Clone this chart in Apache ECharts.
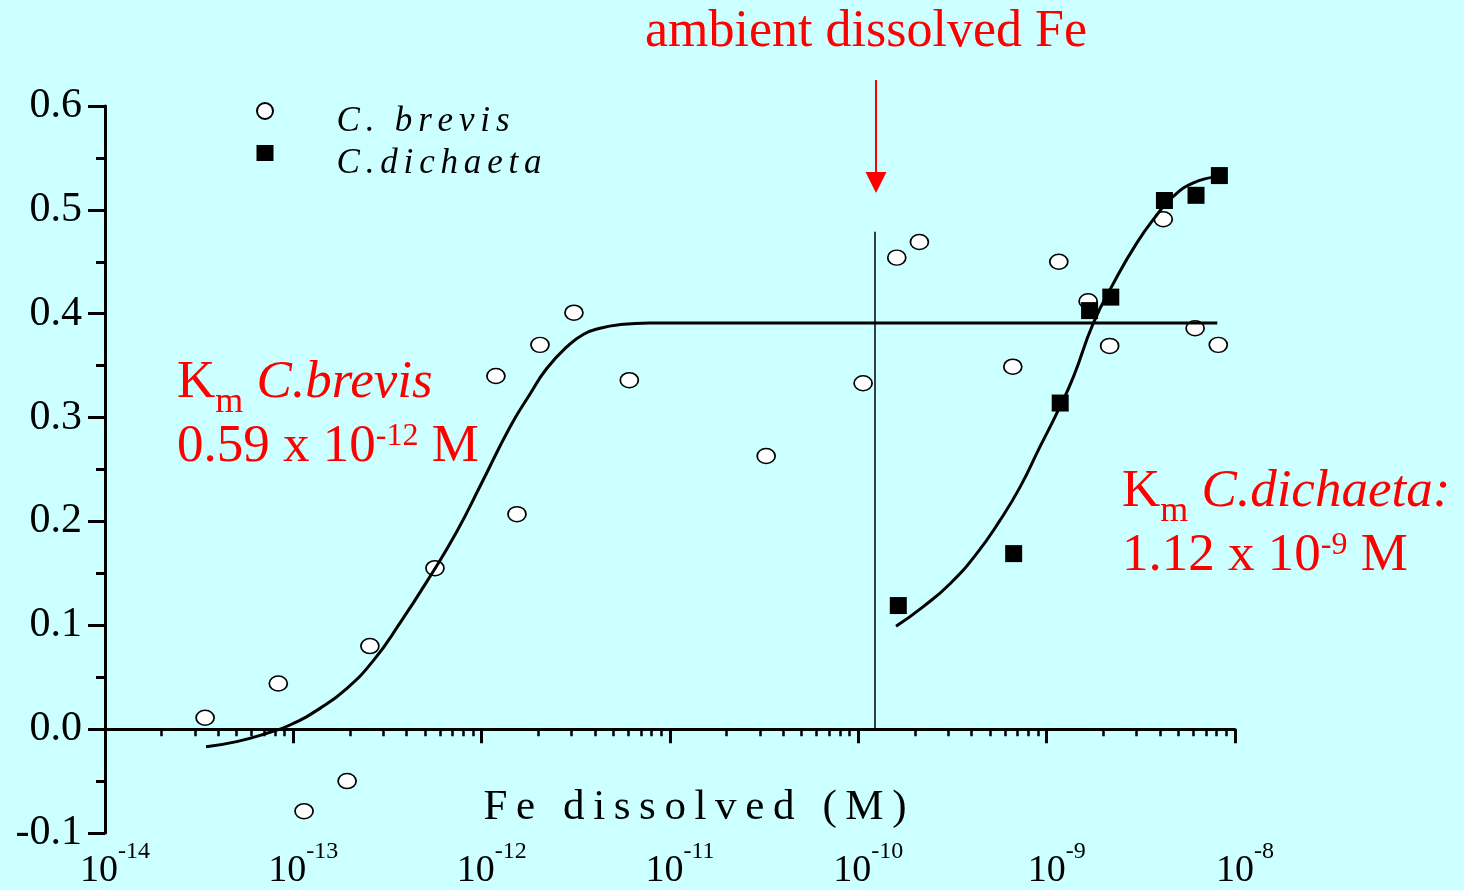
<!DOCTYPE html>
<html>
<head>
<meta charset="utf-8">
<script src="https://cdn.jsdelivr.net/npm/echarts@6/dist/echarts.min.js"></script>
<style>
html,body{margin:0;padding:0;background:#CCFFFF;}
#chart{width:1464px;height:890px;}
</style>
</head>
<body>
<div id="chart"></div>
<script>
// ---------- data (Fe in mol/L, rate values) ----------
const brevisFe   = [3.40e-14, 8.32e-14, 1.14e-13, 1.93e-13, 2.55e-13, 5.65e-13, 1.19e-12, 1.54e-12, 2.04e-12, 3.09e-12, 6.08e-12, 3.24e-11, 1.06e-10, 1.60e-10, 2.11e-10, 6.61e-10, 1.16e-9, 1.66e-9, 2.16e-9, 4.16e-9, 6.14e-9, 8.15e-9];
const brevisRate = [0.011, 0.044, -0.079, -0.050, 0.080, 0.155, 0.340, 0.207, 0.370, 0.401, 0.336, 0.263, 0.333, 0.454, 0.469, 0.349, 0.450, 0.412, 0.369, 0.491, 0.386, 0.370];

const dichaetaFe   = [1.63e-10, 6.68e-10, 1.18e-9, 1.69e-9, 2.19e-9, 4.22e-9, 6.21e-9, 8.26e-9];
const dichaetaRate = [0.119, 0.169, 0.314, 0.403, 0.416, 0.509, 0.514, 0.533];

const brevisFitFe   = [3.44e-14, 5.00e-14, 7.22e-14, 9.60e-14, 1.385e-13, 1.92e-13, 2.66e-13, 3.68e-13, 5.32e-13, 7.37e-13, 1.00e-12, 1.414e-12, 1.81e-12, 2.21e-12, 2.83e-12, 3.46e-12, 4.25e-12, 5.43e-12, 7.83e-12, 8.05e-9];
const brevisFitRate = [-0.017, -0.012, -0.004, 0.004, 0.020, 0.039, 0.066, 0.102, 0.147, 0.190, 0.237, 0.291, 0.323, 0.347, 0.368, 0.380, 0.386, 0.3895, 0.391, 0.391];

const dichaetaFitFe   = [1.585e-10, 2.213e-10, 3.07e-10, 4.25e-10, 5.65e-10, 7.22e-10, 9.22e-10, 1.131e-9, 1.385e-9, 1.769e-9, 2.258e-9, 3.006e-9, 3.84e-9, 4.70e-9, 6.01e-9, 8.03e-9];
const dichaetaFitRate = [0.099, 0.118, 0.140, 0.169, 0.201, 0.233, 0.272, 0.304, 0.339, 0.391, 0.429, 0.468, 0.495, 0.513, 0.526, 0.532];

const ambientFe = 1.226e-10;
const ambientLineTop = 0.479;

const xTickExponents = [-14, -13, -12, -11, -10, -9, -8];
const minorMultipliers = [2, 3, 4, 5, 6, 7, 8, 9];
const yTickValues = [-0.1, 0, 0.1, 0.2, 0.3, 0.4, 0.5, 0.6];

const seriesNames = ['C. brevis', 'C.dichaeta'];
const titleText = 'ambient dissolved Fe';
const xAxisTitle = 'Fe dissolved (M)';

// ---------- helpers ----------
const FONT = "'Liberation Serif','Times New Roman',Times,serif";
const RED = '#FF0000';
const lg = v => Math.log10(v);
const pairs = (xs, ys) => xs.map((x, i) => [lg(x), ys[i]]);
const spaced = (s, sp) => s.split('').join(sp || '\u2009');
const minorTickValues = [];
xTickExponents.slice(0, -1).forEach(e => minorMultipliers.forEach(m => minorTickValues.push(e + Math.log10(m))));

const chart = echarts.init(document.getElementById('chart'), null, {renderer: 'canvas'});

const option = {
  backgroundColor: '#CCFFFF',
  animation: false,
  grid: {left: 105, right: 229, top: 106, bottom: 57, containLabel: false, outerBoundsMode: 'none'},
  legend: {
    orient: 'vertical', left: 256, top: 102, padding: 0,
    itemWidth: 17, itemHeight: 16, itemGap: 6,
    data: seriesNames,
    selectedMode: false,
    formatter: n => '{t|' + spaced(n, '\u2006') + '}',
    textStyle: {
      fontFamily: FONT, fontStyle: 'italic', fontSize: 35, color: '#000', padding: [0, 0, 0, 58],
      rich: {t: {fontFamily: FONT, fontStyle: 'italic', fontSize: 35, color: '#000', lineHeight: 56, verticalAlign: 'bottom'}}
    }
  },
  xAxis: [
    { // major ticks on the y = 0 line
      type: 'value', min: -14, max: -8, interval: 1, position: 'bottom',
      axisLine: {show: true, onZero: true, onZeroAxisIndex: 0, lineStyle: {color: '#000', width: 3}},
      axisTick: {show: true, inside: false, length: 14, customValues: xTickExponents, lineStyle: {color: '#000', width: 3}},
      axisLabel: {show: false},
      splitLine: {show: false},
      name: spaced(xAxisTitle), nameLocation: 'middle', nameGap: -47,
      nameTextStyle: {fontFamily: FONT, fontSize: 43, color: '#000', padding: [0, 0, 0, 50]}
    },
    { // minor (log) ticks on the y = 0 line
      type: 'value', min: -14, max: -8, position: 'bottom',
      axisLine: {show: false, onZero: true, onZeroAxisIndex: 0},
      axisTick: {show: true, inside: false, length: 7, customValues: minorTickValues, lineStyle: {color: '#000', width: 2.5}},
      axisLabel: {show: false},
      splitLine: {show: false}
    },
    { // tick labels at the bottom
      type: 'value', min: -14, max: -8, interval: 1, position: 'bottom',
      axisLine: {show: false, onZero: false},
      axisTick: {show: false},
      splitLine: {show: false},
      axisLabel: {
        show: true, margin: 7, showMinLabel: true, showMaxLabel: true,
        customValues: xTickExponents,
        padding: [0, 0, 0, 20],
        formatter: v => '{b|10}{s|' + Math.round(v) + '}',
        rich: {
          b: {fontFamily: FONT, fontSize: 38, color: '#000', lineHeight: 50, verticalAlign: 'bottom'},
          s: {fontFamily: FONT, fontSize: 24, color: '#000', verticalAlign: 'top'}
        }
      }
    }
  ],
  yAxis: {
    type: 'value', min: -0.1, max: 0.6, interval: 0.1,
    axisLine: {show: true, onZero: false, lineStyle: {color: '#000', width: 3}},
    axisTick: {show: true, inside: false, length: 17, lineStyle: {color: '#000', width: 3}},
    minorTick: {show: true, splitNumber: 2, length: 9, lineStyle: {color: '#000', width: 3}},
    axisLabel: {margin: 23, fontFamily: FONT, fontSize: 42, color: '#000', padding: [12, 0, 0, 0], customValues: yTickValues, formatter: v => v.toFixed(1)},
    splitLine: {show: false},
    minorSplitLine: {show: false}
  },
  series: [
    {
      name: seriesNames[0], type: 'scatter', data: pairs(brevisFe, brevisRate),
      symbol: 'circle', symbolSize: [18, 15],
      itemStyle: {color: '#FFFFFF', borderColor: '#000', borderWidth: 1.6, opacity: 1}, z: 3
    },
    {
      name: seriesNames[1], type: 'scatter', data: pairs(dichaetaFe, dichaetaRate),
      symbol: 'rect', symbolSize: 17,
      itemStyle: {color: '#000', opacity: 1}, z: 4
    },
    {
      name: 'C. brevis fit', type: 'line', data: pairs(brevisFitFe, brevisFitRate),
      smooth: 0.5, symbol: 'none', showSymbol: false,
      lineStyle: {color: '#000', width: 3}, z: 5
    },
    {
      name: 'C.dichaeta fit', type: 'line', data: pairs(dichaetaFitFe, dichaetaFitRate),
      smooth: 0.5, symbol: 'none', showSymbol: false,
      lineStyle: {color: '#000', width: 3}, z: 5
    },
    {
      name: 'ambient', type: 'line', data: [[lg(ambientFe), 0], [lg(ambientFe), ambientLineTop]],
      symbol: 'none', showSymbol: false,
      lineStyle: {color: '#000', width: 1.5}, z: 5
    }
  ]
};
chart.setOption(option);

// annotations
const ax = chart.convertToPixel({xAxisIndex: 0}, lg(ambientFe)) + 1;
const richKm = {
  n: {fontFamily: FONT, fontSize: 53, lineHeight: 64, verticalAlign: 'top', fill: RED},
  i: {fontFamily: FONT, fontSize: 53, fontStyle: 'italic', lineHeight: 64, verticalAlign: 'top', fill: RED},
  sub: {fontFamily: FONT, fontSize: 36, verticalAlign: 'bottom', fill: RED},
  sup: {fontFamily: FONT, fontSize: 32, verticalAlign: 'top', fill: RED}
};
chart.setOption({
  graphic: [
    {type: 'text', id: 'title', x: 866, y: 6, style: {text: titleText, align: 'center', verticalAlign: 'top', fill: RED, fontSize: 52, fontFamily: FONT}},
    {type: 'line', id: 'arrowShaft', shape: {x1: ax, y1: 80, x2: ax, y2: 178}, style: {stroke: RED, lineWidth: 2}},
    {type: 'polygon', id: 'arrowHead', shape: {points: [[ax - 10.5, 172], [ax + 10.5, 172], [ax, 193]]}, style: {fill: RED}},
    {type: 'text', id: 'kmBrevis', x: 177, y: 357, style: {
      text: '{n|K}{sub|m}{i| C.brevis}\n{n|0.59 x 10}{sup|-12}{n| M}',
      rich: richKm, fill: RED, align: 'left', verticalAlign: 'top'}},
    {type: 'text', id: 'kmDichaeta', x: 1122, y: 466, style: {
      text: '{n|K}{sub|m}{i| C.dichaeta:}\n{n|1.12 x 10}{sup|-9}{n| M}',
      rich: richKm, fill: RED, align: 'left', verticalAlign: 'top'}}
  ]
});
</script>
</body>
</html>
